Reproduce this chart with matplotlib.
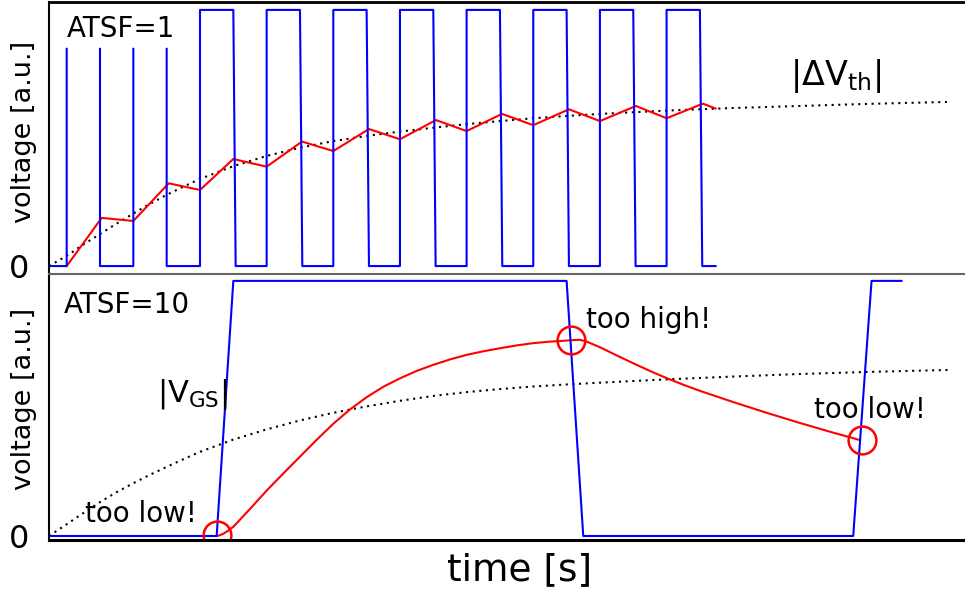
import numpy as np
import matplotlib.pyplot as plt

nan = np.nan

# ---- top panel (ATSF=1) ----
# gate voltage |V_GS|, nan = gap in the drawn trace
vgs1_t = [-0.53, 0, 0, nan, 1, 1, 2, 2, nan, 3, 3, 4, 4, 5, 5.07, 6, 6, 7, 7.07,
          8, 8, 9, 9.07, 10, 10, 11, 11.07, 12, 12, 13, 13.07, 14, 14, 15, 15.07,
          16, 16, 17, 17.07, 18, 18, 19, 19.07, 19.47]
vgs1_v = [0, 0, 0.848, nan, 0.848, 0, 0, 0.848, nan, 0.848, 0, 0, 1, 1, 0, 0, 1, 1, 0,
          0, 1, 1, 0, 0, 1, 1, 0, 0, 1, 1, 0, 0, 1, 1, 0,
          0, 1, 1, 0, 0, 1, 1, 0, 0]
# |dVth| with stress / recovery
dvth1_t = [0, 1.05, 2, 3.06, 4, 5.0, 6, 7.06, 8, 9.07, 10, 11.08, 12, 13.06, 14,
           15.07, 16, 17.08, 18, 19.09, 19.47]
dvth1_v = [0, 0.188, 0.176, 0.323, 0.297, 0.418, 0.388, 0.486, 0.449, 0.535, 0.495,
           0.570, 0.527, 0.594, 0.550, 0.612, 0.566, 0.625, 0.577, 0.634, 0.615]
# ideal (dotted) curve
ideal1_t = [-0.53, 0, 0.5, 1, 1.5, 2, 2.5, 3, 3.5, 4, 5, 6, 7, 8, 9, 10, 11, 12, 13,
            14, 15, 16, 18, 20, 22, 24, 26.5]
ideal1_v = [0, 0.040, 0.084, 0.125, 0.166, 0.205, 0.243, 0.278, 0.310, 0.340, 0.390,
            0.430, 0.462, 0.488, 0.508, 0.525, 0.540, 0.554, 0.566, 0.577, 0.586,
            0.594, 0.607, 0.617, 0.625, 0.633, 0.641]

# ---- bottom panel (ATSF=10) ----
vgs10_t = [-0.53, 4.5, 5.0, 15.0, 15.5, 23.6, 24.15, 25.05]
vgs10_v = [0, 0, 1, 1, 0, 0, 1, 1]
dvth10_t = [4.5, 4.6, 4.7, 4.85, 5.0, 5.5, 6.0, 6.5, 7.0, 7.5, 8.0, 8.5, 9.0, 9.5,
            10.0, 10.5, 11.0, 11.5, 12.0, 12.5, 13.0, 13.5, 14.0, 14.5, 15.0, 15.2,
            15.4, 15.6, 16.0, 16.5, 17.0, 17.5, 18.0, 18.5, 19.0, 19.5, 20.0,
            20.5, 21.0, 21.5, 22.0, 22.5, 23.0, 23.5, 23.8]
dvth10_v = [0, 0.003, 0.009, 0.021, 0.036, 0.106, 0.178, 0.245, 0.311, 0.377, 0.440,
            0.496, 0.544, 0.585, 0.618, 0.647, 0.671, 0.692, 0.710, 0.724, 0.736,
            0.747, 0.756, 0.762, 0.766, 0.768, 0.769, 0.762, 0.740, 0.708, 0.677,
            0.647, 0.619, 0.593, 0.569, 0.547, 0.525, 0.504, 0.483, 0.463, 0.443,
            0.424, 0.405, 0.387, 0.376]
ideal10_t = [-0.53, 0, 0.5, 1, 1.5, 2, 2.5, 3, 3.5, 4, 5, 6, 7, 8, 9, 10, 11, 12, 13,
             14, 15, 16, 18, 20, 22, 24, 26.5]
ideal10_v = [0, 0.046, 0.090, 0.133, 0.172, 0.207, 0.240, 0.271, 0.301, 0.330, 0.378,
             0.418, 0.453, 0.483, 0.508, 0.530, 0.549, 0.564, 0.576, 0.586, 0.594,
             0.601, 0.614, 0.625, 0.635, 0.643, 0.651]
# measurement instants
meas_t = [4.51, 15.13, 23.86]
meas_v = [0.004, 0.769, 0.376]

fig = plt.figure(figsize=(9.65, 5.98), dpi=100)
ax1 = fig.add_axes([0.0508, 0.5418, 0.976, 0.4549])
ax2 = fig.add_axes([0.0508, 0.0970, 0.976, 0.4448])

dots = (0, (1, 2.2))
ax1.plot(ideal1_t, ideal1_v, color="k", linestyle=dots, lw=1.5)
ax1.plot(dvth1_t, dvth1_v, color="r", lw=1.5)
ax1.plot(vgs1_t, vgs1_v, color="b", lw=1.5)
ax1.set_ylim(-0.031, 1.031)

ax2.plot(ideal10_t, ideal10_v, color="k", linestyle=dots, lw=1.5)
ax2.plot(dvth10_t, dvth10_v, color="r", lw=1.5)
ax2.plot(vgs10_t, vgs10_v, color="b", lw=1.5)
ax2.plot(meas_t, meas_v, "o", ms=20, mfc="none", mec="r", mew=1.8)
ax2.set_ylim(-0.0157, 1.027)

for ax in (ax1, ax2):
    ax.set_xlim(-0.53, 27.73)
    ax.set_xticks([])
    ax.set_yticks([0])
    ax.set_yticklabels(["0"], fontsize=23)
    ax.tick_params(axis="y", length=0, pad=14)
    ax.spines["right"].set_visible(False)
    ax.spines["left"].set_linewidth(1.5)

ax1.spines["top"].set_linewidth(2)
ax1.spines["bottom"].set_visible(False)
ax2.spines["top"].set_color("#666666")
ax2.spines["top"].set_linewidth(1.5)
ax2.spines["bottom"].set_linewidth(2.2)

fig.text(24 / 965, 0.779, "voltage [a.u.]", rotation=90, ha="center", va="center", fontsize=19.5)
fig.text(24 / 965, 0.333, "voltage [a.u.]", rotation=90, ha="center", va="center", fontsize=19.5)
fig.text(520 / 965, 0.030, "time [s]", ha="center", va="baseline", fontsize=27)

ax1.text(0.0, 0.894, "ATSF=1", fontsize=20, va="baseline")
ax1.text(21.7, 0.707, r"$\mathregular{|\Delta V_{th}|}$", fontsize=24, va="baseline")
ax2.text(-0.08, 0.876, "ATSF=10", fontsize=20, va="baseline")
ax2.text(2.7, 0.527, r"$\mathregular{|V_{GS}|}$", fontsize=22, va="baseline")
ax2.text(0.55, 0.056, "too low!", fontsize=20, va="baseline")
ax2.text(15.58, 0.815, "too high!", fontsize=20, va="baseline")
ax2.text(22.42, 0.461, "too low!", fontsize=20, va="baseline")

fig.savefig("out.png", dpi=100)
